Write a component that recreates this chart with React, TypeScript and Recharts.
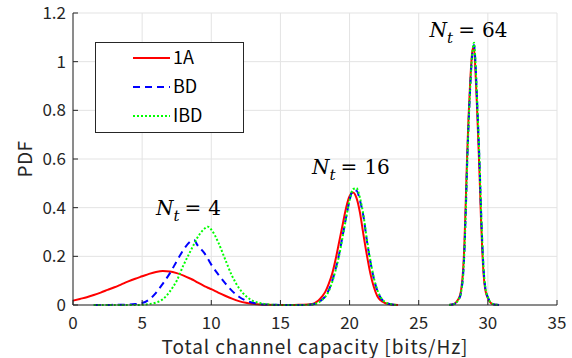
import {
  LineChart,
  Line,
  XAxis,
  YAxis,
  CartesianGrid,
  Legend,
  ReferenceDot,
} from "recharts";

// Nt = 4
const capX4 = [0, 0.5, 1, 1.5, 2, 2.5, 3, 3.5, 4, 4.5, 5, 5.5, 6, 6.5, 7, 7.5, 8, 8.5, 8.75, 9, 9.5, 9.75, 10, 10.5, 11, 11.5, 12, 12.5, 13, 13.5, 14, 14.5, 15, 15.5, 16, 16.5, 17];
const pdf1A4 = [0.018, 0.025, 0.032, 0.041, 0.051, 0.062, 0.073, 0.085, 0.097, 0.108, 0.118, 0.128, 0.136, 0.14, 0.138, 0.131, 0.121, 0.108, 0.101, 0.093, 0.078, 0.071, 0.065, 0.051, 0.038, 0.026, 0.016, 0.009, 0.005, 0.002, 0.001, 0, 0, 0, 0, 0.001, 0.002];
const pdfBD4 = [null, null, null, 0, 0, 0, 0.001, 0.001, 0.002, 0.004, 0.008, 0.022, 0.05, 0.088, 0.13, 0.18, 0.228, 0.262, 0.267, 0.246, 0.213, 0.19, 0.166, 0.126, 0.09, 0.058, 0.034, 0.018, 0.009, 0.004, 0.002, 0.001, 0, 0, 0, 0, 0.001];
const pdfIBD4 = [null, null, null, 0, 0, 0, 0, 0, 0, 0, 0.001, 0.004, 0.01, 0.024, 0.055, 0.1, 0.165, 0.222, 0.25, 0.277, 0.313, 0.322, 0.31, 0.258, 0.188, 0.12, 0.07, 0.037, 0.017, 0.008, 0.003, 0.001, 0, 0, 0, 0, 0.001];

// Nt = 16
const capX16 = [17.25, 17.5, 17.75, 18, 18.25, 18.5, 18.75, 19, 19.25, 19.5, 19.75, 20, 20.25, 20.5, 20.75, 21, 21.25, 21.5, 21.75, 22, 22.25, 22.5, 22.75, 23, 23.25, 23.5];
const pdf1A16 = [0.004, 0.009, 0.018, 0.034, 0.055, 0.088, 0.13, 0.19, 0.26, 0.33, 0.4, 0.447, 0.462, 0.44, 0.38, 0.29, 0.205, 0.13, 0.075, 0.037, 0.019, 0.01, 0.005, 0.002, 0.001, 0];
const pdfBD16 = [0.002, 0.005, 0.011, 0.022, 0.036, 0.062, 0.1, 0.15, 0.21, 0.285, 0.36, 0.43, 0.472, 0.47, 0.43, 0.365, 0.265, 0.18, 0.11, 0.06, 0.03, 0.014, 0.006, 0.003, 0.001, 0];
const pdfIBD16 = [0.002, 0.004, 0.01, 0.02, 0.034, 0.058, 0.096, 0.145, 0.205, 0.28, 0.357, 0.43, 0.476, 0.48, 0.44, 0.37, 0.27, 0.185, 0.113, 0.063, 0.032, 0.015, 0.007, 0.003, 0.001, 0];

// Nt = 64
const capX64 = [27.2, 27.3, 27.4, 27.5, 27.6, 27.7, 27.8, 27.9, 28, 28.1, 28.2, 28.3, 28.4, 28.5, 28.6, 28.7, 28.8, 28.9, 29, 29.1, 29.2, 29.3, 29.4, 29.5, 29.6, 29.7, 29.8, 29.9, 30, 30.1, 30.2, 30.3, 30.4, 30.5, 30.6, 30.7, 30.8];
const pdf1A64 = [0, 0.001, 0.002, 0.004, 0.006, 0.011, 0.018, 0.028, 0.042, 0.075, 0.135, 0.245, 0.42, 0.61, 0.765, 0.89, 0.99, 1.055, 1.055, 0.965, 0.835, 0.69, 0.535, 0.36, 0.22, 0.12, 0.068, 0.042, 0.028, 0.016, 0.009, 0.005, 0.003, 0.001, 0.001, 0, 0];
const pdfBD64 = [0, 0.001, 0.002, 0.003, 0.005, 0.009, 0.015, 0.024, 0.036, 0.065, 0.115, 0.215, 0.38, 0.575, 0.735, 0.865, 0.975, 1.045, 1.068, 1.0, 0.87, 0.73, 0.58, 0.4, 0.25, 0.14, 0.078, 0.048, 0.032, 0.019, 0.011, 0.006, 0.003, 0.002, 0.001, 0.001, 0];
const pdfIBD64 = [0, 0.001, 0.002, 0.003, 0.005, 0.009, 0.015, 0.024, 0.036, 0.065, 0.115, 0.215, 0.38, 0.575, 0.735, 0.865, 0.975, 1.05, 1.078, 1.005, 0.875, 0.735, 0.585, 0.405, 0.255, 0.142, 0.08, 0.049, 0.032, 0.019, 0.011, 0.006, 0.003, 0.002, 0.001, 0.001, 0];

const xTicks = [0, 5, 10, 15, 20, 25, 30, 35];
const yTicks = [0, 0.2, 0.4, 0.6, 0.8, 1, 1.2];

const series = [
  { key: "a", name: "1A", color: "#ff0000", dash: undefined },
  { key: "bd", name: "BD", color: "#0000ff", dash: "7 5" },
  { key: "ibd", name: "IBD", color: "#00ff00", dash: "2 2" },
];

const notes = [
  { x: 8.35, y: 0.37, n: "4" },
  { x: 20.1, y: 0.538, n: "16" },
  { x: 28.6, y: 1.103, n: "64" },
];

const seg = (xs: number[], a: (number | null)[], bd: (number | null)[], ibd: (number | null)[]) =>
  xs.map((x, i) => ({ x, a: a[i], bd: bd[i], ibd: ibd[i] }));

const rows = [
  ...seg(capX4, pdf1A4, pdfBD4, pdfIBD4),
  ...seg(capX16, pdf1A16, pdfBD16, pdfIBD16),
  { x: 25, a: null, bd: null, ibd: null },
  ...seg(capX64, pdf1A64, pdfBD64, pdfIBD64),
];

const axisColor = "#262626";
const font = "'Noto Sans CJK JP', 'Noto Sans', sans-serif";

function NtLabel(props: any) {
  const { viewBox, n } = props;
  const cx = viewBox.x + viewBox.width / 2;
  const cy = viewBox.y + viewBox.height / 2;
  return (
    <text x={cx} y={cy} textAnchor="middle" fontFamily="'DejaVu Serif', serif" fontSize={20} fill="#000">
      <tspan fontStyle="italic">N</tspan>
      <tspan fontStyle="italic" fontSize={15} dy={6}>t</tspan>
      <tspan dy={-6} dx={5}>=</tspan>
      <tspan dx={7}>{n}</tspan>
    </text>
  );
}

function XTitle(props: any) {
  const { viewBox } = props;
  return (
    <text x={viewBox.x + viewBox.width / 2} y={354} textAnchor="middle" fontFamily={font} fontSize={19} letterSpacing={0.9} fill={axisColor}>
      Total channel capacity [bits/Hz]
    </text>
  );
}

function YTitle(props: any) {
  const { viewBox } = props;
  const cy = viewBox.y + viewBox.height / 2;
  return (
    <text x={0} y={0} transform={`translate(32, ${cy}) rotate(-90)`} textAnchor="middle" fontFamily={font} fontSize={19} letterSpacing={0.5} fill={axisColor}>
      PDF
    </text>
  );
}

function LegendBox() {
  return (
    <svg width={149} height={91} style={{ display: "block" }}>
      <rect x={0.5} y={0.5} width={148} height={90} fill="#fff" stroke={axisColor} strokeWidth={1} />
      {series.map((s, i) => (
        <g key={s.key}>
          <line x1={38} x2={75} y1={16 + i * 29} y2={16 + i * 29} stroke={s.color} strokeWidth={2} strokeDasharray={s.dash} />
          <text x={78} y={16 + i * 29} dy="0.36em" fontFamily={font} fontSize={18} fill="#000">
            {s.name}
          </text>
        </g>
      ))}
    </svg>
  );
}

export default function App() {
  return (
    <div style={{ position: "absolute", left: 0, top: 0, background: "#fff" }}>
      <LineChart width={572} height={358} data={rows} margin={{ top: 13, right: 15, bottom: 0, left: 0 }}>
        <CartesianGrid stroke="#e3e3e3" />
        <XAxis
          dataKey="x"
          type="number"
          domain={[0, 35]}
          ticks={xTicks}
          height={53}
          stroke={axisColor}
          tickSize={-5}
          tickMargin={17}
          tick={{ fill: axisColor, fontSize: 17, fontFamily: font }}
          label={<XTitle />}
        />
        <XAxis xAxisId="top" orientation="top" type="number" domain={[0, 35]} ticks={xTicks} height={0} stroke={axisColor} tickSize={-5} tickFormatter={() => ""} />
        <YAxis
          type="number"
          domain={[0, 1.2]}
          ticks={yTicks}
          width={73}
          stroke={axisColor}
          tickSize={-5}
          tickMargin={12}
          tick={{ fill: axisColor, fontSize: 17, fontFamily: font }}
          label={<YTitle />}
        />
        <YAxis yAxisId="right" orientation="right" type="number" domain={[0, 1.2]} ticks={yTicks} width={0} stroke={axisColor} tickSize={-5} tickFormatter={() => ""} />
        {series.map((s) => (
          <Line
            key={s.key}
            dataKey={s.key}
            name={s.name}
            type="monotone"
            stroke={s.color}
            strokeWidth={2}
            strokeDasharray={s.dash}
            dot={false}
            connectNulls={false}
            isAnimationActive={false}
          />
        ))}
        {notes.map((n) => (
          <ReferenceDot key={n.n} x={n.x} y={n.y} r={0} stroke="none" label={<NtLabel n={n.n} />} />
        ))}
        <Legend
          layout="vertical"
          align="center"
          verticalAlign="middle"
          content={() => <LegendBox />}
          wrapperStyle={{ position: "absolute", left: 95, top: 42, width: 149, height: 91 }}
        />
      </LineChart>
    </div>
  );
}
